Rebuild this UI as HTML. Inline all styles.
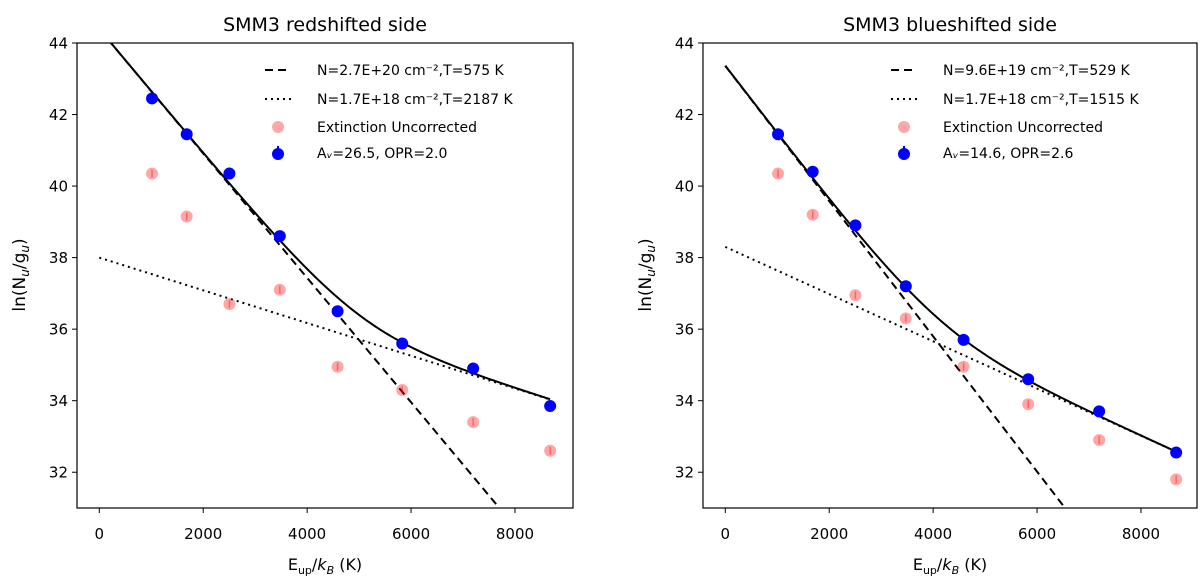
<!DOCTYPE html>
<html><head><meta charset="utf-8"><style>
html,body{margin:0;background:#fff;overflow:hidden;}
svg{display:block;}
svg text{font-family:"DejaVu Sans","Liberation Sans",sans-serif;fill:#000;}
</style></head><body>
<svg id="chart" width="1200" height="583" xmlns="http://www.w3.org/2000/svg"></svg>
<script>
const energies=[1015,1682,2504,3474,4586,5830,7195,8677];
const redBlue=[42.45,41.45,40.35,38.6,36.5,35.6,34.9,33.85];
const redUncorr=[40.35,39.15,36.7,37.1,34.95,34.3,33.4,32.6];
const blueBlue=[41.45,40.4,38.9,37.2,35.7,34.6,33.7,32.55];
const blueUncorr=[40.35,39.2,36.95,36.3,34.95,33.9,32.9,31.8];
const xTicks=[0,2000,4000,6000,8000];
const yTicks=[32,34,36,38,40,42,44];
const redModel={a:44.39,Ta:575,b:38.0,Tb:2187};
const blueModel={a:43.36,Ta:529,b:38.3,Tb:1515};
const panels=[
 {name:'redshifted',title:'SMM3 redshifted side',x0:77,x1:573,blue:redBlue,unc:redUncorr,m:redModel,
  leg:['N=2.7E+20 cm⁻²,T=575 K','N=1.7E+18 cm⁻²,T=2187 K','Extinction Uncorrected','A<tspan font-style="italic">ᵥ</tspan>=26.5, OPR=2.0']},
 {name:'blueshifted',title:'SMM3 blueshifted side',x0:703,x1:1197,blue:blueBlue,unc:blueUncorr,m:blueModel,
  leg:['N=9.6E+19 cm⁻²,T=529 K','N=1.7E+18 cm⁻²,T=1515 K','Extinction Uncorrected','A<tspan font-style="italic">ᵥ</tspan>=14.6, OPR=2.6']}
];
const svg=document.getElementById('chart');
const NS='http://www.w3.org/2000/svg';
function mk(tag,attrs,parent){const e=document.createElementNS(NS,tag);for(const k in attrs)e.setAttribute(k,attrs[k]);(parent||svg).appendChild(e);return e;}
const yTop=43,yBot=508,yMin=31,yMax=44;
function ys(v){return yBot-(v-yMin)/(yMax-yMin)*(yBot-yTop);}
panels.forEach(p=>{
 const off=p.x0-77;
 const xs=v=>99.3+off+v*0.05196;
 const g=mk('g',{});
 
 
 const cp='clip-'+p.name;
 const c=mk('clipPath',{id:cp},g);mk('rect',{x:p.x0,y:yTop,width:p.x1-p.x0,height:yBot-yTop},c);
 const t=mk('text',{x:(p.x0+p.x1)/2,y:31,'text-anchor':'middle','font-size':'19'},g);t.textContent=p.title;
 
 
 const dash=[],dot=[],sol=[];
 for(let e=0;e<=8677;e+=25){
  const d=p.m.a-e/p.m.Ta,o=p.m.b-e/p.m.Tb;
  const s=Math.log(Math.exp(d)+Math.exp(o));
  dash.push(xs(e)+','+ys(d));dot.push(xs(e)+','+ys(o));sol.push(xs(e)+','+ys(s));
 }
 const cg=mk('g',{'clip-path':'url(#'+cp+')'},g);
 let l=mk('polyline',{points:dash.join(' '),fill:'none',stroke:'#000','stroke-width':2,'stroke-dasharray':'8,5'},cg);
 
 l=mk('polyline',{points:dot.join(' '),fill:'none',stroke:'#000','stroke-width':2,'stroke-dasharray':'2,4'},cg);
 
 l=mk('polyline',{points:sol.join(' '),fill:'none',stroke:'#000','stroke-width':2},cg);
 
 energies.forEach((e,i)=>{
  const r=mk('circle',{cx:xs(e),cy:ys(p.unc[i]),r:6,fill:'rgba(255,0,0,0.35)'},g);
  
  mk('line',{x1:xs(e),x2:xs(e),y1:ys(p.unc[i])-4,y2:ys(p.unc[i])+4,stroke:'rgba(255,0,0,0.4)','stroke-width':1.5},g);
  const b=mk('circle',{cx:xs(e),cy:ys(p.blue[i]),r:6,fill:'#0000ff'},g);
  
 });
 mk('rect',{x:p.x0,y:yTop,width:p.x1-p.x0,height:yBot-yTop,fill:'none',stroke:'#000','stroke-width':1.2},g);
 xTicks.forEach(v=>{
  mk('line',{x1:xs(v),x2:xs(v),y1:yBot,y2:yBot+5,stroke:'#000'},g);
  const tx=mk('text',{x:xs(v),y:yBot+31,'text-anchor':'middle','font-size':'15'},g);tx.textContent=v;
  
 });
 yTicks.forEach(v=>{
  mk('line',{x1:p.x0,x2:p.x0-5,y1:ys(v),y2:ys(v),stroke:'#000'},g);
  const ty=mk('text',{x:p.x0-9,y:ys(v)+5.5,'text-anchor':'end','font-size':'15'},g);ty.textContent=v;
  
 });
 const xl=mk('text',{x:(p.x0+p.x1)/2,y:570,'text-anchor':'middle','font-size':'16'},g);
 xl.innerHTML='E<tspan font-size="11" dy="4">up</tspan><tspan dy="-4">/</tspan><tspan font-style="italic">k</tspan><tspan font-size="11" dy="4" font-style="italic">B</tspan><tspan dy="-4"> (K)</tspan>';
 
 const yl=mk('text',{x:0,y:0,'text-anchor':'middle','font-size':'17',transform:'translate('+(p.x0-52)+',275) rotate(-90)'},g);
 yl.innerHTML='ln(N<tspan font-size="12" dy="4" font-style="italic">u</tspan><tspan dy="-4">/g</tspan><tspan font-size="12" dy="4" font-style="italic">u</tspan><tspan dy="-4">)</tspan>';
 
 const lx=p.x0+188,rows=[70,99,127,153];
 const lg=mk('g',{},g);
 mk('line',{x1:lx,x2:lx+26,y1:rows[0],y2:rows[0],stroke:'#000','stroke-width':2,'stroke-dasharray':'8,5'},lg);
 mk('line',{x1:lx,x2:lx+26,y1:rows[1],y2:rows[1],stroke:'#000','stroke-width':2,'stroke-dasharray':'2,4'},lg);
 mk('circle',{cx:lx+13,cy:rows[2],r:6,fill:'rgba(255,0,0,0.35)'},lg);
 mk('circle',{cx:lx+13,cy:rows[3]+1,r:6,fill:'#0000ff'},lg);
 mk('line',{x1:lx+13,x2:lx+13,y1:rows[3]-7,y2:rows[3],stroke:'#0000ff','stroke-width':2},lg);
 p.leg.forEach((s,i)=>{const te=mk('text',{x:lx+52,y:rows[i]+5,'font-size':'14'},lg);te.innerHTML=s;
  });
});
</script>
</body></html>
